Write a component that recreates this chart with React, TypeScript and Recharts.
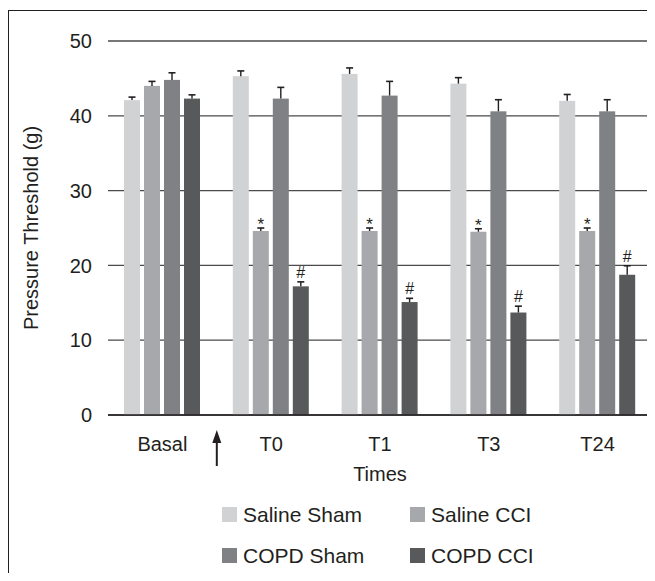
import React from "react";
import { Bar, BarChart, CartesianGrid, Legend, XAxis, YAxis } from "recharts";

const categories = ["Basal", "T0", "T1", "T3", "T24"];
const seriesNames = ["Saline Sham", "Saline CCI", "COPD Sham", "COPD CCI"];
const salineSham = [42.1, 45.3, 45.6, 44.3, 42.0];
const salineShamErr = [0.4, 0.7, 0.8, 0.8, 0.85];
const salineCci = [44.0, 24.6, 24.6, 24.5, 24.6];
const salineCciErr = [0.6, 0.4, 0.4, 0.4, 0.4];
const copdSham = [44.8, 42.3, 42.7, 40.6, 40.6];
const copdShamErr = [0.95, 1.5, 1.9, 1.55, 1.55];
const copdCci = [42.3, 17.2, 15.1, 13.7, 18.75];
const copdCciErr = [0.5, 0.6, 0.5, 0.85, 1.2];
const salineCciMark = ["", "*", "*", "*", "*"];
const copdCciMark = ["", "#", "#", "#", "#"];
const yTicks = [0, 10, 20, 30, 40, 50];

const INK = "#231f20";
const FONT = '"Liberation Sans", Arial, Helvetica, sans-serif';

const data = categories.map((c, i) => ({
  name: c,
  ss: salineSham[i], ssErr: salineShamErr[i], ssMark: "",
  sc: salineCci[i], scErr: salineCciErr[i], scMark: salineCciMark[i],
  cs: copdSham[i], csErr: copdShamErr[i], csMark: "",
  cc: copdCci[i], ccErr: copdCciErr[i], ccMark: copdCciMark[i],
}));

// bar + one-sided error bar + significance mark
const makeShape = (key: string) => (props: any) => {
  const { x, y, width, height, fill, payload } = props;
  const val = payload[key];
  const err = payload[key + "Err"];
  const mark = payload[key + "Mark"];
  const ppu = val ? height / val : 0;
  const cx = x + width / 2;
  const capY = y - err * ppu;
  return (
    <g>
      <rect x={x} y={y} width={width} height={height} fill={fill} />
      <line x1={cx} x2={cx} y1={y} y2={capY} stroke={INK} strokeWidth={1.4} />
      <line x1={cx - 3.5} x2={cx + 3.5} y1={capY} y2={capY} stroke={INK} strokeWidth={1.6} />
      {mark ? (
        <text x={cx} y={mark === "*" ? capY + 2 : capY - 4} textAnchor="middle" fontSize={mark === "*" ? 17 : 16} fill={INK}>
          {mark}
        </text>
      ) : null}
    </g>
  );
};

function XTick(props: any) {
  const { x, y, payload } = props;
  const half = payload?.offset || 54.4;
  const ax = x + half;
  const tip = y - 7;
  return (
    <g>
      <text x={x} y={y} dy="0.71em" textAnchor="middle" fontSize={20} fill={INK}>
        {payload.value}
      </text>
      {payload.index === 0 ? (
        <g>
          <line x1={ax} x2={ax} y1={tip + 10} y2={tip + 36} stroke={INK} strokeWidth={2} />
          <polygon points={`${ax},${tip} ${ax - 4.5},${tip + 13} ${ax + 4.5},${tip + 13}`} fill={INK} />
        </g>
      ) : null}
    </g>
  );
}

function LegendBox(props: any) {
  const items = [...(props.payload || [])].sort(
    (a: any, b: any) => seriesNames.indexOf(a.value) - seriesNames.indexOf(b.value)
  );
  return (
    <div style={{ position: "relative", width: 646, height: 116, fontFamily: FONT }}>
      {items.map((it: any, i: number) => (
        <div
          key={i}
          style={{
            position: "absolute",
            left: i % 2 === 0 ? 213 : 401,
            top: i < 2 ? 52 : 93,
            display: "flex",
            alignItems: "center",
            height: 15,
            whiteSpace: "nowrap",
          }}
        >
          <span style={{ display: "inline-block", width: 15, height: 15, background: it.color, marginRight: 6 }} />
          <span style={{ fontSize: 21, lineHeight: 1, color: INK }}>{it.value}</span>
        </div>
      ))}
    </div>
  );
}

export default function App() {
  return (
    <div
      style={{
        position: "relative",
        top: 2,
        width: 646,
        height: 564,
        borderTop: `1.5px solid ${INK}`,
        borderLeft: `1.5px solid ${INK}`,
        fontFamily: FONT,
        background: "#fff",
        overflow: "hidden",
      }}
    >
      <BarChart
        width={646}
        height={560}
        data={data}
        margin={{ top: 30, right: 3, left: 0, bottom: 0 }}
        barSize={16}
        barGap={4}
      >
        <CartesianGrid vertical={false} stroke="#4a4a4a" strokeWidth={1.3} />
        <XAxis
          dataKey="name"
          height={40}
          tickLine={false}
          tickSize={0}
          tickMargin={22}
          axisLine={{ stroke: INK, strokeWidth: 1.6 }}
          tick={<XTick />}
          interval={0}
          label={{ value: "Times", position: "bottom", offset: 12, fontSize: 20, fill: INK }}
        />
        <YAxis
          width={99}
          domain={[0, 50]}
          ticks={yTicks}
          axisLine={false}
          tickLine={false}
          tickSize={0}
          tickMargin={16}
          tick={{ fontSize: 20, fill: INK }}
          label={{
            value: "Pressure Threshold (g)",
            angle: -90,
            position: "insideLeft",
            offset: 22,
            fontSize: 20,
            fill: INK,
            style: { textAnchor: "middle" },
          }}
        />
        <Legend
          verticalAlign="bottom"
          content={<LegendBox />}
          wrapperStyle={{ left: 0, bottom: 0, width: 646, height: 116 }}
        />
        <Bar dataKey="ss" name={seriesNames[0]} fill="#d1d2d4" shape={makeShape("ss")} isAnimationActive={false} />
        <Bar dataKey="sc" name={seriesNames[1]} fill="#a7a8ab" shape={makeShape("sc")} isAnimationActive={false} />
        <Bar dataKey="cs" name={seriesNames[2]} fill="#808184" shape={makeShape("cs")} isAnimationActive={false} />
        <Bar dataKey="cc" name={seriesNames[3]} fill="#58595b" shape={makeShape("cc")} isAnimationActive={false} />
      </BarChart>
    </div>
  );
}
